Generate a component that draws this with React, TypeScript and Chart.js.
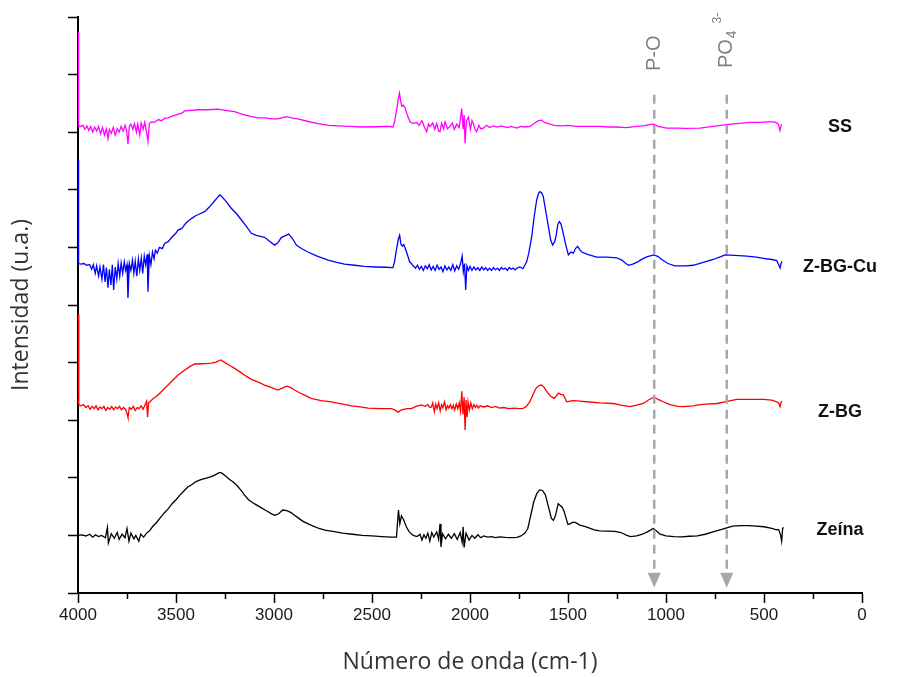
import React, { useEffect, useRef } from 'react';
import { Chart, registerables } from 'chart.js';
Chart.register(...registerables);

// wavenumber (cm-1) / intensity (u.a., stacked offsets)
const zeina: [number, number][] = [
  [4000,1.00],[3980,1.01],[3960,0.99],[3940,1.02],[3925,0.97],[3910,1.01],[3895,0.98],[3880,1.00],[3860,0.96],[3850,1.14],[3845,0.87],[3830,1.03],[3815,0.95],[3800,1.05],[3790,0.93],[3775,1.02],[3760,0.96],[3750,1.12],[3740,0.90],[3730,1.04],[3715,0.94],[3705,1.00],[3690,0.90],[3680,1.02],[3665,0.97],[3650,1.04],[3635,1.08],[3620,1.15],[3600,1.22],[3580,1.31],[3560,1.39],[3540,1.46],[3520,1.55],[3500,1.62],[3480,1.70],[3460,1.77],[3440,1.84],[3420,1.88],[3400,1.93],[3380,1.96],[3360,1.98],[3340,2.00],[3320,2.02],[3300,2.05],[3280,2.09],[3270,2.09],[3250,2.04],[3230,1.98],[3210,1.93],[3190,1.87],[3170,1.79],[3150,1.70],[3130,1.62],[3110,1.57],[3090,1.53],[3070,1.49],[3050,1.45],[3030,1.41],[3010,1.37],[2995,1.35],[2975,1.38],[2955,1.44],[2935,1.43],[2915,1.40],[2895,1.35],[2875,1.30],[2850,1.24],[2825,1.20],[2800,1.16],[2770,1.12],[2740,1.09],[2700,1.07],[2650,1.04],[2600,1.02],[2550,1.00],[2500,0.99],[2450,0.98],[2400,0.97],[2375,0.97],[2365,1.44],[2358,1.20],[2350,1.34],[2340,1.28],[2325,1.15],[2310,1.06],[2290,1.00],[2270,0.98],[2255,1.02],[2245,0.92],[2235,1.01],[2225,0.95],[2215,1.04],[2205,0.90],[2195,1.05],[2185,0.97],[2170,1.06],[2160,0.93],[2153,1.20],[2148,0.80],[2140,1.03],[2125,0.94],[2110,1.02],[2095,0.95],[2080,1.03],[2065,0.93],[2050,1.05],[2040,0.88],[2035,1.15],[2030,0.79],[2020,1.04],[2005,0.92],[1990,1.00],[1975,0.95],[1960,1.01],[1945,0.96],[1930,0.99],[1910,0.97],[1890,0.98],[1870,0.96],[1850,0.975],[1820,0.965],[1790,0.96],[1760,0.965],[1740,0.99],[1720,1.04],[1705,1.12],[1690,1.35],[1675,1.58],[1660,1.72],[1645,1.79],[1630,1.78],[1615,1.70],[1600,1.50],[1585,1.30],[1575,1.26],[1565,1.33],[1550,1.55],[1540,1.52],[1530,1.49],[1520,1.42],[1510,1.30],[1500,1.19],[1490,1.20],[1475,1.23],[1460,1.22],[1440,1.18],[1420,1.16],[1400,1.14],[1370,1.10],[1340,1.08],[1300,1.075],[1260,1.07],[1230,1.05],[1200,1.00],[1180,0.98],[1150,0.99],[1120,1.02],[1090,1.07],[1065,1.12],[1050,1.08],[1030,1.02],[1000,0.99],[960,0.98],[920,0.975],[880,0.985],[840,0.99],[800,1.02],[760,1.06],[720,1.10],[690,1.13],[660,1.16],[620,1.17],[580,1.17],[540,1.16],[500,1.15],[460,1.12],[440,1.10],[425,1.10],[415,1.00],[410,0.90],[405,1.12],[400,1.14]
];

const zbg: [number, number][] = [
  [4000,4.84],[3996,3.27],[3985,3.25],[3972,3.27],[3960,3.22],[3948,3.25],[3938,3.19],[3928,3.24],[3918,3.20],[3908,3.25],[3898,3.18],[3888,3.23],[3878,3.20],[3868,3.24],[3858,3.17],[3848,3.22],[3838,3.19],[3828,3.24],[3818,3.18],[3808,3.23],[3798,3.20],[3788,3.24],[3778,3.18],[3768,3.22],[3758,3.19],[3750,3.12],[3745,3.05],[3738,3.22],[3728,3.19],[3718,3.24],[3708,3.17],[3698,3.22],[3688,3.20],[3678,3.25],[3668,3.19],[3658,3.27],[3650,3.33],[3645,3.05],[3640,3.30],[3630,3.33],[3615,3.38],[3600,3.41],[3575,3.495],[3550,3.58],[3520,3.68],[3490,3.785],[3460,3.86],[3430,3.93],[3405,3.976],[3370,3.98],[3340,3.985],[3320,3.99],[3295,4.01],[3272,4.045],[3250,4.00],[3225,3.95],[3201,3.90],[3170,3.83],[3140,3.76],[3116,3.71],[3080,3.66],[3048,3.61],[3015,3.57],[2980,3.524],[2955,3.56],[2937,3.59],[2915,3.57],[2895,3.524],[2860,3.46],[2810,3.38],[2760,3.34],[2707,3.32],[2650,3.28],[2605,3.25],[2560,3.23],[2520,3.21],[2460,3.20],[2401,3.20],[2380,3.17],[2367,3.14],[2350,3.18],[2320,3.20],[2299,3.20],[2275,3.24],[2248,3.264],[2230,3.24],[2215,3.27],[2205,3.22],[2197,3.23],[2190,3.30],[2182,3.15],[2175,3.28],[2168,3.20],[2160,3.30],[2152,3.16],[2145,3.27],[2138,3.22],[2130,3.32],[2122,3.18],[2115,3.25],[2108,3.21],[2100,3.27],[2092,3.20],[2085,3.26],[2078,3.18],[2070,3.28],[2062,3.20],[2055,3.30],[2048,3.15],[2042,3.50],[2036,3.10],[2030,3.40],[2025,2.83],[2020,3.35],[2015,3.05],[2010,3.32],[2003,3.18],[1996,3.30],[1988,3.20],[1980,3.27],[1972,3.22],[1965,3.26],[1957,3.21],[1949,3.25],[1930,3.23],[1910,3.25],[1890,3.22],[1870,3.24],[1850,3.21],[1830,3.22],[1800,3.20],[1775,3.21],[1750,3.20],[1728,3.206],[1712,3.24],[1694,3.32],[1678,3.45],[1663,3.554],[1648,3.60],[1634,3.61],[1622,3.57],[1609,3.50],[1590,3.42],[1571,3.38],[1560,3.42],[1549,3.47],[1537,3.45],[1524,3.44],[1515,3.38],[1507,3.32],[1490,3.33],[1473,3.34],[1440,3.33],[1405,3.32],[1340,3.30],[1269,3.29],[1230,3.26],[1184,3.235],[1150,3.26],[1116,3.29],[1090,3.35],[1061,3.40],[1040,3.36],[1014,3.32],[980,3.27],[940,3.24],[912,3.235],[860,3.25],[844,3.26],[800,3.28],[741,3.29],[700,3.32],[640,3.36],[580,3.36],[503,3.36],[460,3.35],[435,3.32],[425,3.30],[418,3.235],[413,3.31],[408,3.33]
];

const zbgcu: [number, number][] = [
  [4000,7.53],[3997,5.72],[3985,5.71],[3970,5.72],[3955,5.69],[3940,5.70],[3930,5.62],[3922,5.70],[3912,5.55],[3905,5.68],[3895,5.50],[3888,5.66],[3878,5.45],[3870,5.70],[3862,5.40],[3855,5.65],[3847,5.30],[3840,5.62],[3832,5.35],[3825,5.70],[3818,5.26],[3810,5.66],[3802,5.45],[3795,5.72],[3787,5.50],[3780,5.73],[3772,5.55],[3764,5.75],[3757,5.60],[3750,5.70],[3745,5.12],[3738,5.72],[3730,5.60],[3722,5.78],[3715,5.55],[3708,5.76],[3700,5.50],[3692,5.80],[3685,5.60],[3677,5.82],[3670,5.55],[3662,5.85],[3655,5.70],[3647,5.88],[3643,5.23],[3636,5.86],[3628,5.70],[3620,5.92],[3612,5.80],[3605,5.95],[3595,5.90],[3585,6.00],[3570,5.98],[3558,6.07],[3540,6.10],[3520,6.18],[3500,6.25],[3490,6.30],[3470,6.33],[3450,6.42],[3422,6.50],[3400,6.55],[3380,6.58],[3354,6.62],[3330,6.70],[3310,6.78],[3290,6.86],[3277,6.91],[3265,6.88],[3245,6.80],[3218,6.68],[3190,6.58],[3167,6.48],[3140,6.36],[3116,6.245],[3090,6.21],[3070,6.19],[3048,6.175],[3020,6.10],[2997,6.04],[2980,6.08],[2963,6.17],[2945,6.20],[2925,6.23],[2905,6.15],[2886,6.04],[2860,5.98],[2827,5.92],[2780,5.85],[2724,5.78],[2680,5.74],[2640,5.71],[2588,5.69],[2540,5.67],[2480,5.66],[2430,5.655],[2393,5.65],[2385,5.75],[2376,5.95],[2365,6.15],[2359,6.21],[2352,6.05],[2345,6.02],[2338,6.05],[2330,5.98],[2320,5.88],[2308,5.75],[2299,5.72],[2290,5.68],[2278,5.64],[2268,5.69],[2258,5.62],[2248,5.67],[2238,5.60],[2228,5.68],[2218,5.63],[2208,5.70],[2198,5.61],[2188,5.67],[2178,5.60],[2168,5.69],[2158,5.62],[2148,5.66],[2138,5.58],[2128,5.68],[2118,5.61],[2108,5.66],[2098,5.60],[2088,5.70],[2078,5.59],[2068,5.68],[2058,5.62],[2048,5.72],[2040,5.85],[2034,5.58],[2028,5.72],[2022,5.26],[2016,5.68],[2008,5.60],[2000,5.67],[1990,5.60],[1980,5.66],[1970,5.61],[1960,5.65],[1950,5.60],[1940,5.66],[1930,5.61],[1920,5.65],[1910,5.60],[1900,5.64],[1890,5.60],[1880,5.65],[1870,5.61],[1860,5.64],[1850,5.60],[1840,5.65],[1830,5.62],[1820,5.64],[1810,5.60],[1800,5.65],[1790,5.62],[1780,5.64],[1770,5.61],[1760,5.64],[1745,5.66],[1730,5.63],[1711,5.75],[1700,5.90],[1685,6.19],[1672,6.55],[1660,6.82],[1650,6.94],[1643,6.97],[1635,6.95],[1626,6.88],[1612,6.60],[1600,6.36],[1588,6.12],[1578,6.04],[1568,6.10],[1561,6.20],[1552,6.40],[1544,6.45],[1535,6.40],[1524,6.24],[1512,6.05],[1498,5.87],[1485,5.92],[1473,5.90],[1462,5.98],[1451,6.02],[1440,5.96],[1430,5.92],[1400,5.88],[1354,5.83],[1300,5.83],[1252,5.82],[1225,5.78],[1205,5.72],[1190,5.69],[1170,5.71],[1145,5.75],[1120,5.80],[1095,5.84],[1061,5.87],[1040,5.84],[1022,5.79],[990,5.72],[954,5.68],[900,5.68],[861,5.69],[810,5.74],[759,5.79],[720,5.84],[699,5.87],[650,5.86],[588,5.85],[540,5.83],[503,5.81],[460,5.79],[435,5.77],[425,5.70],[418,5.64],[413,5.72],[408,5.76]
];

const ss: [number, number][] = [
  [4000,9.74],[3997,8.11],[3985,8.10],[3975,8.12],[3965,8.05],[3955,8.11],[3945,8.03],[3935,8.10],[3925,8.00],[3915,8.09],[3905,8.02],[3895,8.10],[3885,7.97],[3875,8.08],[3865,7.95],[3855,8.06],[3847,7.89],[3840,8.05],[3830,7.98],[3820,8.08],[3810,7.95],[3800,8.06],[3790,8.00],[3780,8.10],[3770,8.02],[3760,8.12],[3752,8.03],[3745,7.79],[3738,8.10],[3730,8.14],[3720,8.05],[3712,8.15],[3702,8.00],[3695,8.14],[3685,7.95],[3678,8.16],[3668,8.05],[3660,8.17],[3650,8.00],[3643,7.84],[3636,8.15],[3626,8.18],[3610,8.17],[3590,8.22],[3575,8.20],[3558,8.24],[3540,8.25],[3520,8.28],[3500,8.30],[3490,8.31],[3470,8.33],[3456,8.37],[3420,8.38],[3388,8.39],[3340,8.39],[3286,8.40],[3250,8.38],[3201,8.356],[3160,8.31],[3116,8.27],[3080,8.25],[3048,8.25],[3010,8.23],[2980,8.23],[2960,8.25],[2937,8.27],[2910,8.25],[2878,8.23],[2830,8.19],[2776,8.15],[2720,8.12],[2673,8.11],[2610,8.10],[2554,8.09],[2480,8.095],[2420,8.10],[2393,8.09],[2385,8.18],[2374,8.39],[2365,8.60],[2360,8.68],[2354,8.55],[2348,8.45],[2340,8.47],[2331,8.42],[2320,8.30],[2306,8.18],[2290,8.15],[2272,8.17],[2260,8.12],[2245,8.20],[2232,8.08],[2221,8.01],[2212,8.14],[2204,8.10],[2190,8.16],[2180,8.05],[2170,8.15],[2160,8.02],[2153,8.01],[2145,8.16],[2135,8.06],[2127,8.18],[2115,8.06],[2102,8.10],[2090,8.16],[2080,8.05],[2068,8.14],[2055,8.08],[2042,8.41],[2035,8.05],[2030,8.30],[2025,7.81],[2018,8.20],[2008,8.26],[1998,8.05],[1990,8.20],[1983,8.15],[1975,8.05],[1966,8.01],[1955,8.12],[1945,8.06],[1932,8.07],[1915,8.12],[1900,8.08],[1880,8.11],[1864,8.09],[1840,8.11],[1810,8.08],[1790,8.10],[1762,8.07],[1740,8.10],[1720,8.09],[1694,8.10],[1670,8.16],[1650,8.20],[1635,8.21],[1620,8.17],[1600,8.15],[1570,8.12],[1530,8.11],[1500,8.12],[1460,8.10],[1400,8.10],[1337,8.10],[1290,8.09],[1252,8.09],[1200,8.08],[1150,8.10],[1116,8.11],[1085,8.13],[1065,8.14],[1040,8.10],[997,8.07],[950,8.07],[900,8.065],[827,8.07],[760,8.10],[720,8.12],[691,8.13],[640,8.15],[572,8.17],[520,8.17],[480,8.18],[453,8.18],[440,8.17],[427,8.14],[419,8.03],[414,8.10],[410,8.14]
];

const seriesNames = ['Zeína', 'Z-BG', 'Z-BG-Cu', 'SS'];
const seriesColors = ['#000000', '#ff0000', '#0000ff', '#ff00ff'];
const seriesData = [zeina, zbg, zbgcu, ss];
const labelWavenumber = 112;
const labelLevels = [1.09, 3.14, 5.66, 8.09];

const bandPositions = [1060, 690];
const bandTop = 8.65;
const bandArrowBase = 0.35;
const bandArrowTip = 0.09;
const bandLabelBottom = 9.13;

const xMin = 0;
const xMax = 4000;
const xStep = 250;
const xLabelStep = 500;
const yMin = 0;
const yMax = 10;

const overlayPlugin = {
  id: 'overlay',
  afterDraw(chart: any) {
    const { ctx } = chart;
    const x = chart.scales.x;
    const y = chart.scales.y;
    ctx.save();
    // minor x ticks
    ctx.strokeStyle = '#000';
    ctx.lineWidth = 1.5;
    for (let v = xStep; v < xMax; v += xLabelStep) {
      const px = Math.round(x.getPixelForValue(v)) + 0.5;
      ctx.beginPath();
      ctx.moveTo(px, y.bottom);
      ctx.lineTo(px, y.bottom + 6);
      ctx.stroke();
    }
    // dashed band markers
    ctx.strokeStyle = '#a8a8a8';
    ctx.fillStyle = '#a8a8a8';
    ctx.lineWidth = 2.5;
    ctx.setLineDash([9, 6]);
    bandPositions.forEach((v) => {
      const px = x.getPixelForValue(v);
      ctx.beginPath();
      ctx.moveTo(px, y.getPixelForValue(bandTop));
      ctx.lineTo(px, y.getPixelForValue(bandArrowBase));
      ctx.stroke();
    });
    ctx.setLineDash([]);
    bandPositions.forEach((v) => {
      const px = x.getPixelForValue(v);
      const b = y.getPixelForValue(bandArrowBase);
      const t = y.getPixelForValue(bandArrowTip);
      ctx.beginPath();
      ctx.moveTo(px - 6.5, b);
      ctx.lineTo(px + 6.5, b);
      ctx.lineTo(px, t);
      ctx.closePath();
      ctx.fill();
    });
    // band labels (rotated)
    ctx.fillStyle = '#7f7f7f';
    ctx.textBaseline = 'middle';
    ctx.textAlign = 'left';
    const fam = "'Liberation Sans', Arial, sans-serif";
    {
      const px = x.getPixelForValue(bandPositions[0]);
      const py = y.getPixelForValue(bandLabelBottom) + 4;
      ctx.save();
      ctx.translate(px, py);
      ctx.rotate(-Math.PI / 2);
      ctx.font = `20px ${fam}`;
      ctx.fillText('P-O', 0, 0);
      ctx.restore();
    }
    {
      const px = x.getPixelForValue(bandPositions[1]);
      const py = y.getPixelForValue(bandLabelBottom) + 1;
      ctx.save();
      ctx.translate(px, py);
      ctx.rotate(-Math.PI / 2);
      ctx.font = `20px ${fam}`;
      ctx.fillText('PO', 0, 0);
      let w = ctx.measureText('PO').width;
      ctx.font = `14px ${fam}`;
      ctx.fillText('4', w + 1, 5);
      w += ctx.measureText('4').width + 8;
      ctx.font = `12px ${fam}`;
      ctx.fillText('3-', w, -9);
      ctx.restore();
    }
    // series labels
    ctx.fillStyle = '#111';
    ctx.textAlign = 'center';
    ctx.textBaseline = 'middle';
    ctx.font = `bold 18px ${fam}`;
    seriesNames.forEach((n, i) => {
      ctx.fillText(n, x.getPixelForValue(labelWavenumber), y.getPixelForValue(labelLevels[i]));
    });
    ctx.restore();
  },
};

export default function App() {
  const ref = useRef<HTMLCanvasElement | null>(null);
  useEffect(() => {
    if (!ref.current) return;
    const chart = new Chart(ref.current, {
      type: 'line',
      data: {
        datasets: seriesData.map((d, i) => ({
          label: seriesNames[i],
          data: d.map(([wx, wy]) => ({ x: wx, y: wy })),
          borderColor: seriesColors[i],
          backgroundColor: seriesColors[i],
          borderWidth: 1.3,
          pointRadius: 0,
          tension: 0,
          fill: false,
        })),
      },
      options: {
        responsive: false,
        animation: false,
        layout: { padding: { top: 17, right: 45, left: 0, bottom: 0 } },
        plugins: { legend: { display: false }, tooltip: { enabled: false } },
        scales: {
          x: {
            type: 'linear',
            reverse: true,
            min: xMin,
            max: xMax,
            afterFit: (s: any) => { s.height = 84; },
            ticks: {
              stepSize: xStep,
              autoSkip: false,
              maxRotation: 0,
              padding: 2,
              color: '#1a1a1a',
              font: { size: 17, family: "'Liberation Sans Narrow', 'Arial Narrow', 'Liberation Sans', sans-serif" },
              callback: (v: any) => (Number(v) % xLabelStep === 0 ? String(v) : ''),
            },
            grid: {
              drawOnChartArea: false,
              drawTicks: true,
              tickLength: 10,
              tickWidth: 1.5,
              tickColor: (c: any) => (c.tick && c.tick.value % xLabelStep === 0 ? '#000' : 'rgba(0,0,0,0)'),
            },
            border: { color: '#000', width: 2 },
            title: {
              display: true,
              text: 'Número de onda (cm-1)',
              color: '#333',
              font: { size: 23, family: "'Open Sans', 'Noto Sans', sans-serif" },
              padding: { top: 0, bottom: 1 },
            },
          },
          y: {
            type: 'linear',
            min: yMin,
            max: yMax,
            afterFit: (s: any) => { s.width = 78; },
            ticks: { display: false, stepSize: 1 },
            grid: { drawOnChartArea: false, drawTicks: true, tickLength: 10, tickWidth: 1.5, tickColor: '#000' },
            border: { color: '#000', width: 2 },
            title: {
              display: true,
              text: 'Intensidad (u.a.)',
              color: '#333',
              font: { size: 23, family: "'Open Sans', 'Noto Sans', sans-serif" },
              padding: { top: 8, bottom: 0 },
            },
          },
        },
      },
      plugins: [overlayPlugin],
    } as any);
    return () => chart.destroy();
  }, []);
  return (
    <div style={{ position: 'fixed', left: 0, top: 0, width: 907, height: 677, background: '#fff' }}>
      <canvas ref={ref} width={907} height={677} style={{ display: 'block' }} />
    </div>
  );
}
